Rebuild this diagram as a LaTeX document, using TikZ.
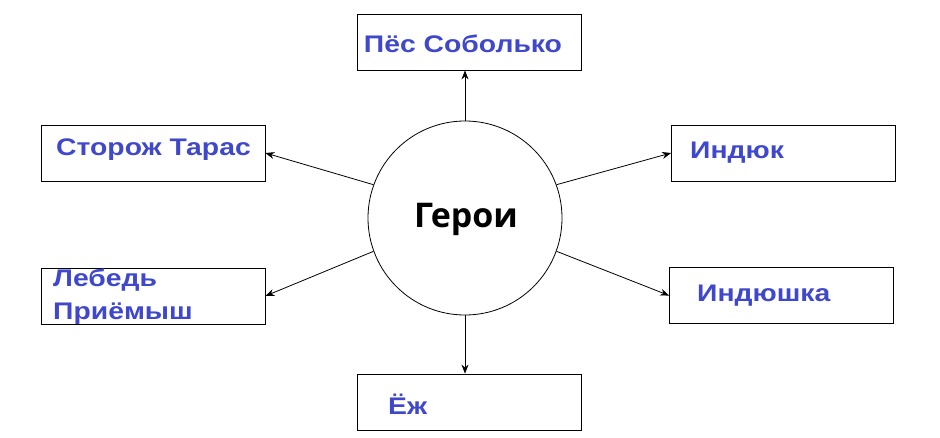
\documentclass[tikz,border=0pt]{standalone}
\usepackage{fontspec}
\setmainfont{Liberation Sans}
\newfontfamily\herofont{Open Sans}
\usetikzlibrary{arrows.meta}
\definecolor{lbl}{HTML}{3F48CC}
\newcommand{\wide}[1]{\scalebox{1.18}[1]{#1}}
\begin{document}
\begin{tikzpicture}[x=1pt,y=-1pt,
  box/.style={draw,line width=0.8pt,minimum width=224pt,minimum height=56pt,inner sep=0pt},
  lab/.style={text=lbl,font=\bfseries\fontsize{24}{33}\selectfont,anchor=west,align=left,inner sep=0pt},
  arr/.style={-{Stealth[length=9pt,width=7pt]},line width=0.8pt}]
\useasboundingbox (0,0) rectangle (940,437);
\node[circle,draw,line width=0.8pt,minimum size=194pt,inner sep=0pt] (c) at (465,218) {};
\node[font=\herofont\bfseries\fontsize{34}{40}\selectfont] (ct) at (466,219) {Герои};
\node[box] (t) at (469,42) {};
\node[box] (lt) at (153,153) {};
\node[box] (rt) at (783.5,153) {};
\node[box] (lb) at (153,296) {};
\node[box] (rb) at (781.5,295.5) {};
\node[box] (b) at (469,402) {};
\node[lab,anchor=center] (tt) at (463,44) {\wide{Пёс Соболько}};
\node[lab] (ltt) at (56,150) {\wide{Сторож Тарас}};
\node[lab] (rtt) at (690,153) {\wide{Индюк}};
\node[lab] (lbt) at (53,297) {\wide{Лебедь}\\\wide{Приёмыш}};
\node[lab] (rbt) at (697,296) {\wide{Индюшка}};
\node[lab] (bt) at (388,404) {\wide{Ёж}};
\draw[arr] (c.north) -- (c.north |- t.south);
\draw[arr] (c.south) -- (c.south |- b.north);
\draw[arr] (c.160) -- (lt.east);
\draw[arr] (c.20) -- (rt.west);
\draw[arr] (c.200) -- (lb.east);
\draw[arr] (c.-20) -- (rb.west);
\end{tikzpicture}
\end{document}
